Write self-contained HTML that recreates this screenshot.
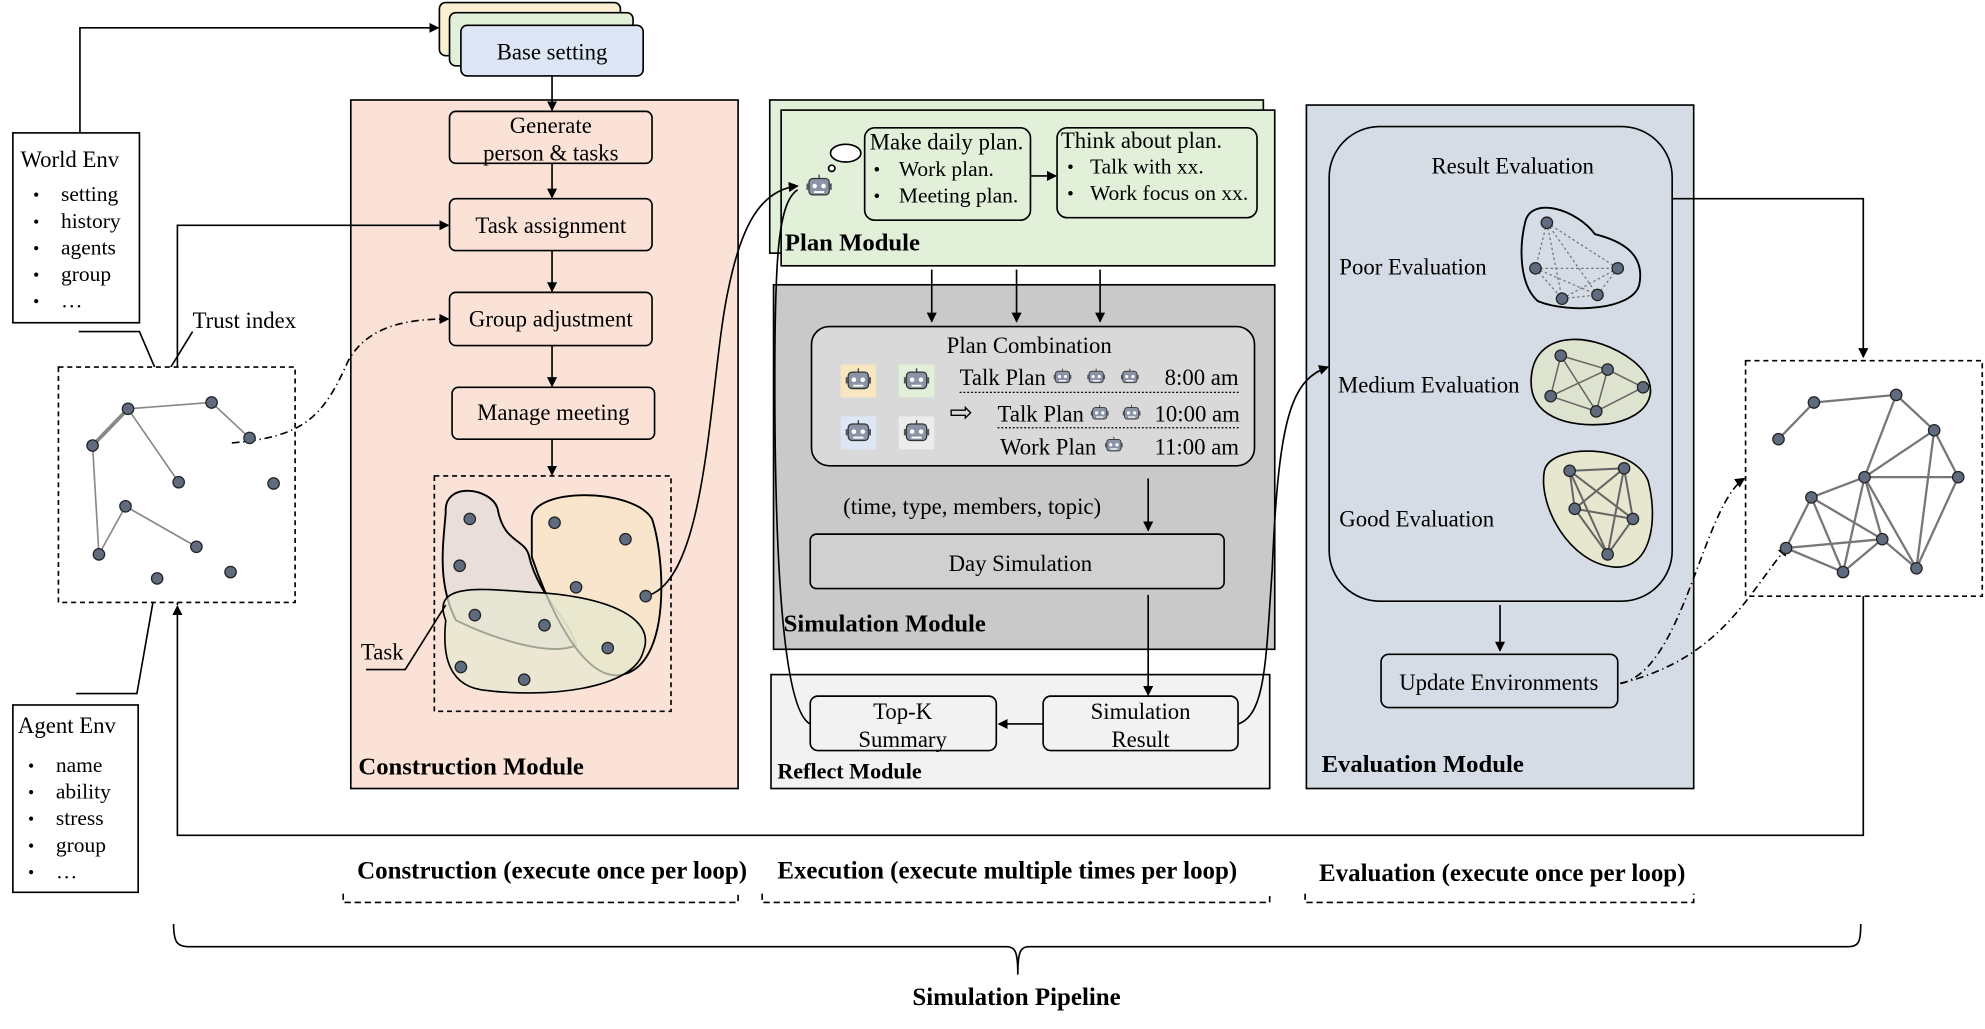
<!DOCTYPE html>
<html><head><meta charset="utf-8"><style>
html,body{margin:0;padding:0;background:#fff;}
svg{display:block;}
text{font-family:"Liberation Serif",serif;fill:#000;}
</style></head><body>
<svg width="1985" height="1029" viewBox="0 0 1568 813" xmlns="http://www.w3.org/2000/svg">
<defs>
<marker id="ar" markerWidth="8" markerHeight="8" refX="7" refY="4" orient="auto" markerUnits="userSpaceOnUse"><path d="M0,0 L8,4 L0,8 z" fill="#000"/></marker>
<g id="bot"><rect x="-8" y="-7" width="16" height="13" rx="3" fill="#8a94a6" stroke="#333" stroke-width="1"/><circle cx="-3.5" cy="-1" r="1.8" fill="#fff"/><circle cx="3.5" cy="-1" r="1.8" fill="#fff"/><rect x="-4" y="3" width="8" height="1.5" fill="#fff"/><line x1="0" y1="-7" x2="0" y2="-10" stroke="#333"/><rect x="-10" y="-3" width="2" height="5" fill="#555"/><rect x="8" y="-3" width="2" height="5" fill="#555"/></g>
<g id="nd"><circle r="4.5" fill="#5f6b7e" stroke="#222" stroke-width="1"/></g>
</defs>
<g stroke="#000" stroke-width="1.3" fill="none">
<rect x="347" y="2" width="143" height="42" rx="5" fill="#fbf1d2"/>
<rect x="355" y="10" width="145" height="42" rx="5" fill="#e2efd9"/>
<rect x="364" y="20" width="144" height="40" rx="5" fill="#dce6f5"/>
<polyline points="63,105 63,22 346,22" marker-end="url(#ar)"/>
<rect x="10" y="105" width="100" height="150" fill="#fff"/>
<rect x="277" y="79" width="306" height="544" fill="#fae3d6"/>
<rect x="355" y="88" width="160" height="41" rx="5"/>
<rect x="355" y="157" width="160" height="41" rx="5"/>
<rect x="355" y="231" width="160" height="42" rx="5"/>
<rect x="357" y="306" width="160" height="41" rx="5"/>
<line x1="436" y1="60" x2="436" y2="87" marker-end="url(#ar)"/>
<line x1="436" y1="129" x2="436" y2="156" marker-end="url(#ar)"/>
<line x1="436" y1="198" x2="436" y2="230" marker-end="url(#ar)"/>
<line x1="436" y1="273" x2="436" y2="305" marker-end="url(#ar)"/>
<line x1="436" y1="347" x2="436" y2="375" marker-end="url(#ar)"/>
<rect x="343" y="376" width="187" height="186" stroke-dasharray="4,3"/>
<path d="M352,405 C350,380 388,385 393,402 C398,430 415,425 418,440 C425,470 450,490 455,510 C430,520 380,500 360,490 C345,460 350,430 352,405z" fill="#e6dcdc" fill-opacity="0.8" stroke-width="1.5"/>
<path d="M420,410 C420,385 500,385 515,410 C525,440 530,520 495,532 C460,545 430,470 420,440z" fill="#f7e6c8" fill-opacity="0.75" stroke-width="1.5"/>
<path d="M352,490 C340,460 380,465 420,468 C470,470 520,485 508,515 C500,545 430,552 380,545 C350,540 350,510 352,490z" fill="#e4e8d0" fill-opacity="0.7"/>
<polyline points="289,529 320,529 352,478" stroke-width="1.3"/>
<polyline points="140,478 140,178 354,178" marker-end="url(#ar)"/>
<polyline points="62,262 110,262 122,290"/>
<polyline points="133,293 152,262"/>
<polyline points="60,548 108,548 124,457"/>
<rect x="46" y="290" width="187" height="186" stroke-dasharray="4,3" fill="#fff"/>
<g stroke="#888"><line x1="101" y1="323" x2="167" y2="318"/><line x1="167" y1="318" x2="197" y2="346"/><line x1="101" y1="323" x2="73" y2="352" stroke-width="3"/><line x1="73" y1="352" x2="78" y2="438"/><line x1="101" y1="323" x2="141" y2="381"/><line x1="99" y1="400" x2="78" y2="438"/><line x1="99" y1="400" x2="155" y2="432"/></g>
<path d="M183,350 C240,345 255,330 275,285 C290,258 320,252 354,252" stroke-dasharray="6,3,1,3" marker-end="url(#ar)"/>
<rect x="10" y="557" width="99" height="148" fill="#fff"/>
<rect x="608" y="79" width="390" height="121" fill="#e2efd9"/>
<rect x="617" y="87" width="390" height="123" fill="#e2efd9"/>
<rect x="683" y="101" width="131" height="73" rx="8"/>
<rect x="835" y="101" width="158" height="71" rx="8"/>
<line x1="814" y1="139" x2="834" y2="139" marker-end="url(#ar)"/>
<path d="M510,471 C560,460 560,300 575,230 C585,180 600,150 630,147" marker-end="url(#ar)"/>
<ellipse cx="668" cy="121" rx="12" ry="7" fill="#fff"/><circle cx="657" cy="133" r="2.5" fill="#fff"/>
<rect x="611" y="225" width="396" height="288" fill="#c9c9c9"/>
<line x1="736" y1="213" x2="736" y2="254" marker-end="url(#ar)"/>
<line x1="803" y1="213" x2="803" y2="254" marker-end="url(#ar)"/>
<line x1="869" y1="213" x2="869" y2="254" marker-end="url(#ar)"/>
<rect x="641" y="258" width="350" height="110" rx="14" fill="#d9d9d9"/>
<g stroke-dasharray="1.5,1.5" stroke-width="1"><line x1="758" y1="310" x2="980" y2="310"/><line x1="788" y1="338" x2="980" y2="338"/></g>
<line x1="907" y1="378" x2="907" y2="419" marker-end="url(#ar)"/>
<rect x="640" y="422" width="327" height="43" rx="5" fill="#d0d0d0"/>
<rect x="609" y="533" width="394" height="90" fill="#f2f2f2"/>
<rect x="640" y="550" width="147" height="43" rx="6" fill="#f2f2f2"/>
<rect x="824" y="550" width="154" height="43" rx="6" fill="#f2f2f2"/>
<line x1="824" y1="572" x2="789" y2="572" marker-end="url(#ar)"/>
<path d="M640,572 C615,560 612,400 612,300 C612,200 615,160 630,150"/>
<rect x="1032" y="83" width="306" height="540" fill="#d6dce5"/>
<rect x="1050" y="100" width="271" height="375" rx="40" fill="#d6dce5"/>
<path d="M1205,175 C1210,155 1245,165 1260,185 C1280,190 1300,200 1295,225 C1290,245 1240,248 1215,238 C1200,225 1200,195 1205,175z" fill="#d6dce5" stroke-width="1.5"/>
<path d="M1210,295 C1215,260 1260,262 1290,285 C1315,305 1305,330 1270,335 C1240,338 1205,330 1210,295z" fill="#dde3cf"/>
<path d="M1220,372 C1225,350 1290,350 1302,380 C1310,410 1305,450 1275,448 C1240,445 1215,400 1220,372z" fill="#e7e6cf"/>
<line x1="1185" y1="478" x2="1185" y2="514" marker-end="url(#ar)"/>
<rect x="1091" y="517" width="187" height="42" rx="6" fill="#d6dce5"/>
<polyline points="1321,157 1472,157 1472,282" marker-end="url(#ar)"/>
<rect x="1379" y="285" width="187" height="186" stroke-dasharray="4,3" fill="#fff"/>
<path d="M1280,540 C1330,530 1345,400 1378,378" stroke-dasharray="6,3,1,3" marker-end="url(#ar)"/>
<path d="M1280,540 C1360,520 1380,470 1412,432" stroke-dasharray="6,3,1,3" marker-end="url(#ar)"/>
<polyline points="1472,471 1472,660 140,660 140,479" marker-end="url(#ar)"/>
<line x1="907" y1="470" x2="907" y2="549" marker-end="url(#ar)"/>
<path d="M978,572 C1000,565 1000,520 1005,450 C1010,330 1020,300 1049,290" marker-end="url(#ar)"/>
<g stroke-dasharray="5,3"><polyline points="271,706 271,713 583,713 583,706"/><polyline points="602,706 602,713 1003,713 1003,706"/><polyline points="1031,706 1031,713 1338,713 1338,706"/></g>
<path d="M137,730 C137,745 140,748 150,748 L795,748 C802,748 804,752 804,770 C804,752 806,748 813,748 L1460,748 C1468,748 1470,745 1470,730"/>
</g>
<g stroke="#777" stroke-width="1" stroke-dasharray="2,2"><line x1="1222" y1="176" x2="1213" y2="212"/><line x1="1222" y1="176" x2="1278" y2="212"/><line x1="1222" y1="176" x2="1234" y2="236"/><line x1="1222" y1="176" x2="1262" y2="233"/><line x1="1213" y1="212" x2="1278" y2="212"/><line x1="1213" y1="212" x2="1234" y2="236"/><line x1="1234" y1="236" x2="1262" y2="233"/><line x1="1262" y1="233" x2="1278" y2="212"/><line x1="1213" y1="212" x2="1262" y2="233"/><line x1="1278" y1="212" x2="1234" y2="236"/></g>
<g stroke="#666" stroke-width="1.2"><line x1="1233" y1="281" x2="1270" y2="292"/><line x1="1233" y1="281" x2="1225" y2="313"/><line x1="1233" y1="281" x2="1261" y2="325"/><line x1="1270" y1="292" x2="1298" y2="306"/><line x1="1270" y1="292" x2="1261" y2="325"/><line x1="1225" y1="313" x2="1261" y2="325"/><line x1="1298" y1="306" x2="1261" y2="325"/><line x1="1225" y1="313" x2="1270" y2="292"/></g>
<g stroke="#666" stroke-width="1.6"><line x1="1240" y1="372" x2="1283" y2="370"/><line x1="1240" y1="372" x2="1244" y2="402"/><line x1="1240" y1="372" x2="1290" y2="410"/><line x1="1283" y1="370" x2="1290" y2="410"/><line x1="1283" y1="370" x2="1244" y2="402"/><line x1="1244" y1="402" x2="1270" y2="438"/><line x1="1290" y1="410" x2="1270" y2="438"/><line x1="1244" y1="402" x2="1290" y2="410"/><line x1="1283" y1="370" x2="1270" y2="438"/><line x1="1240" y1="372" x2="1270" y2="438"/></g>
<g stroke="#777" stroke-width="1.8"><line x1="1433" y1="318" x2="1498" y2="312"/><line x1="1498" y1="312" x2="1528" y2="340"/><line x1="1498" y1="312" x2="1473" y2="377"/><line x1="1528" y1="340" x2="1473" y2="377"/><line x1="1528" y1="340" x2="1547" y2="377"/><line x1="1528" y1="340" x2="1514" y2="449"/><line x1="1473" y1="377" x2="1547" y2="377"/><line x1="1547" y1="377" x2="1514" y2="449"/><line x1="1473" y1="377" x2="1431" y2="393"/><line x1="1473" y1="377" x2="1487" y2="426"/><line x1="1473" y1="377" x2="1514" y2="449"/><line x1="1473" y1="377" x2="1456" y2="452"/><line x1="1431" y1="393" x2="1411" y2="433"/><line x1="1431" y1="393" x2="1456" y2="452"/><line x1="1431" y1="393" x2="1487" y2="426"/><line x1="1411" y1="433" x2="1456" y2="452"/><line x1="1411" y1="433" x2="1487" y2="426"/><line x1="1487" y1="426" x2="1456" y2="452"/><line x1="1487" y1="426" x2="1514" y2="449"/><line x1="1433" y1="318" x2="1405" y2="347"/></g>
<g><use href="#nd" x="101" y="323"/><use href="#nd" x="167" y="318"/><use href="#nd" x="197" y="346"/><use href="#nd" x="73" y="352"/><use href="#nd" x="141" y="381"/><use href="#nd" x="216" y="382"/><use href="#nd" x="99" y="400"/><use href="#nd" x="78" y="438"/><use href="#nd" x="155" y="432"/><use href="#nd" x="124" y="457"/><use href="#nd" x="182" y="452"/>
<use href="#nd" x="371" y="410"/><use href="#nd" x="363" y="447"/><use href="#nd" x="438" y="413"/><use href="#nd" x="494" y="426"/><use href="#nd" x="455" y="464"/><use href="#nd" x="510" y="471"/><use href="#nd" x="375" y="486"/><use href="#nd" x="430" y="494"/><use href="#nd" x="480" y="512"/><use href="#nd" x="364" y="527"/><use href="#nd" x="414" y="537"/>
<use href="#nd" x="1222" y="176"/><use href="#nd" x="1213" y="212"/><use href="#nd" x="1278" y="212"/><use href="#nd" x="1234" y="236"/><use href="#nd" x="1262" y="233"/>
<use href="#nd" x="1233" y="281"/><use href="#nd" x="1270" y="292"/><use href="#nd" x="1298" y="306"/><use href="#nd" x="1225" y="313"/><use href="#nd" x="1261" y="325"/>
<use href="#nd" x="1240" y="372"/><use href="#nd" x="1283" y="370"/><use href="#nd" x="1244" y="402"/><use href="#nd" x="1290" y="410"/><use href="#nd" x="1270" y="438"/>
<use href="#nd" x="1433" y="318"/><use href="#nd" x="1498" y="312"/><use href="#nd" x="1528" y="340"/><use href="#nd" x="1405" y="347"/><use href="#nd" x="1473" y="377"/><use href="#nd" x="1547" y="377"/><use href="#nd" x="1431" y="393"/><use href="#nd" x="1487" y="426"/><use href="#nd" x="1411" y="433"/><use href="#nd" x="1456" y="452"/><use href="#nd" x="1514" y="449"/></g>
<use href="#bot" x="647" y="148"/>
<rect x="664" y="288" width="28" height="26" fill="#f7e6c0"/><use href="#bot" x="678" y="301"/>
<rect x="710" y="288" width="28" height="26" fill="#e2efd9"/><use href="#bot" x="724" y="301"/>
<rect x="664" y="329" width="28" height="26" fill="#dce6f5"/><use href="#bot" x="678" y="342"/>
<rect x="710" y="329" width="28" height="26" fill="#ececec"/><use href="#bot" x="724" y="342"/>
<g transform="scale(0.7)"><use href="#bot" x="1199" y="426"/><use href="#bot" x="1237" y="426"/><use href="#bot" x="1275" y="426"/><use href="#bot" x="1241" y="467"/><use href="#bot" x="1277" y="467"/><use href="#bot" x="1257" y="503"/></g>
<g font-size="18">
<text x="436" y="47" text-anchor="middle">Base setting</text>
<text x="16" y="132">World Env</text>
<g font-size="17"><text x="48" y="159">setting</text><text x="48" y="180">history</text><text x="48" y="201">agents</text><text x="48" y="222">group</text><text x="48" y="243">…</text>
<text x="44" y="610">name</text><text x="44" y="631">ability</text><text x="44" y="652">stress</text><text x="44" y="673">group</text><text x="44" y="694">…</text></g>
<g font-size="14"><text x="26" y="159">•</text><text x="26" y="180">•</text><text x="26" y="201">•</text><text x="26" y="222">•</text><text x="26" y="243">•</text><text x="22" y="610">•</text><text x="22" y="631">•</text><text x="22" y="652">•</text><text x="22" y="673">•</text><text x="22" y="694">•</text></g>
<text x="14" y="579">Agent Env</text>
<text x="152" y="259">Trust index</text>
<text x="285" y="521">Task</text>
<text x="435" y="105" text-anchor="middle">Generate</text>
<text x="435" y="127" text-anchor="middle">person &amp; tasks</text>
<text x="435" y="184" text-anchor="middle">Task assignment</text>
<text x="435" y="258" text-anchor="middle">Group adjustment</text>
<text x="437" y="332" text-anchor="middle">Manage meeting</text>
<text x="283" y="612" font-weight="bold" font-size="19.5">Construction Module</text>
<text x="687" y="118">Make daily plan.</text>
<text x="690" y="139" font-size="15">•</text><text x="710" y="139" font-size="17">Work plan.</text>
<text x="690" y="160" font-size="15">•</text><text x="710" y="160" font-size="17">Meeting plan.</text>
<text x="838" y="117">Think about plan.</text>
<text x="843" y="137" font-size="15">•</text><text x="861" y="137" font-size="17">Talk with xx.</text>
<text x="843" y="158" font-size="15">•</text><text x="861" y="158" font-size="17">Work focus on xx.</text>
<text x="620" y="198" font-weight="bold" font-size="19.5">Plan Module</text>
<text x="813" y="279" text-anchor="middle">Plan Combination</text>
<text x="758" y="304">Talk Plan</text><text x="920" y="304">8:00 am</text>
<text x="750" y="333" font-size="22">⇨</text>
<text x="788" y="333">Talk Plan</text><text x="912" y="333">10:00 am</text>
<text x="790" y="359">Work Plan</text><text x="912" y="359">11:00 am</text>
<text x="666" y="406">(time, type, members, topic)</text>
<text x="806" y="451" text-anchor="middle">Day Simulation</text>
<text x="619" y="499" font-weight="bold" font-size="19.5">Simulation Module</text>
<text x="713" y="568" text-anchor="middle">Top-K</text><text x="713" y="590" text-anchor="middle">Summary</text>
<text x="901" y="568" text-anchor="middle">Simulation</text><text x="901" y="590" text-anchor="middle">Result</text>
<text x="614" y="615" font-weight="bold" font-size="17.5">Reflect Module</text>
<text x="1195" y="137" text-anchor="middle">Result Evaluation</text>
<text x="1058" y="217">Poor Evaluation</text>
<text x="1057" y="310">Medium Evaluation</text>
<text x="1058" y="416">Good Evaluation</text>
<text x="1184" y="545" text-anchor="middle">Update Environments</text>
<text x="1044" y="610" font-weight="bold" font-size="19.5">Evaluation Module</text>
<text x="282" y="694" font-weight="bold" font-size="19.7">Construction (execute once per loop)</text>
<text x="614" y="694" font-weight="bold" font-size="19.7">Execution (execute multiple times per loop)</text>
<text x="1042" y="696" font-weight="bold" font-size="19.7">Evaluation (execute once per loop)</text>
<text x="803" y="794" font-weight="bold" font-size="19.7" text-anchor="middle">Simulation Pipeline</text>
</g>
</svg>
</body></html>
